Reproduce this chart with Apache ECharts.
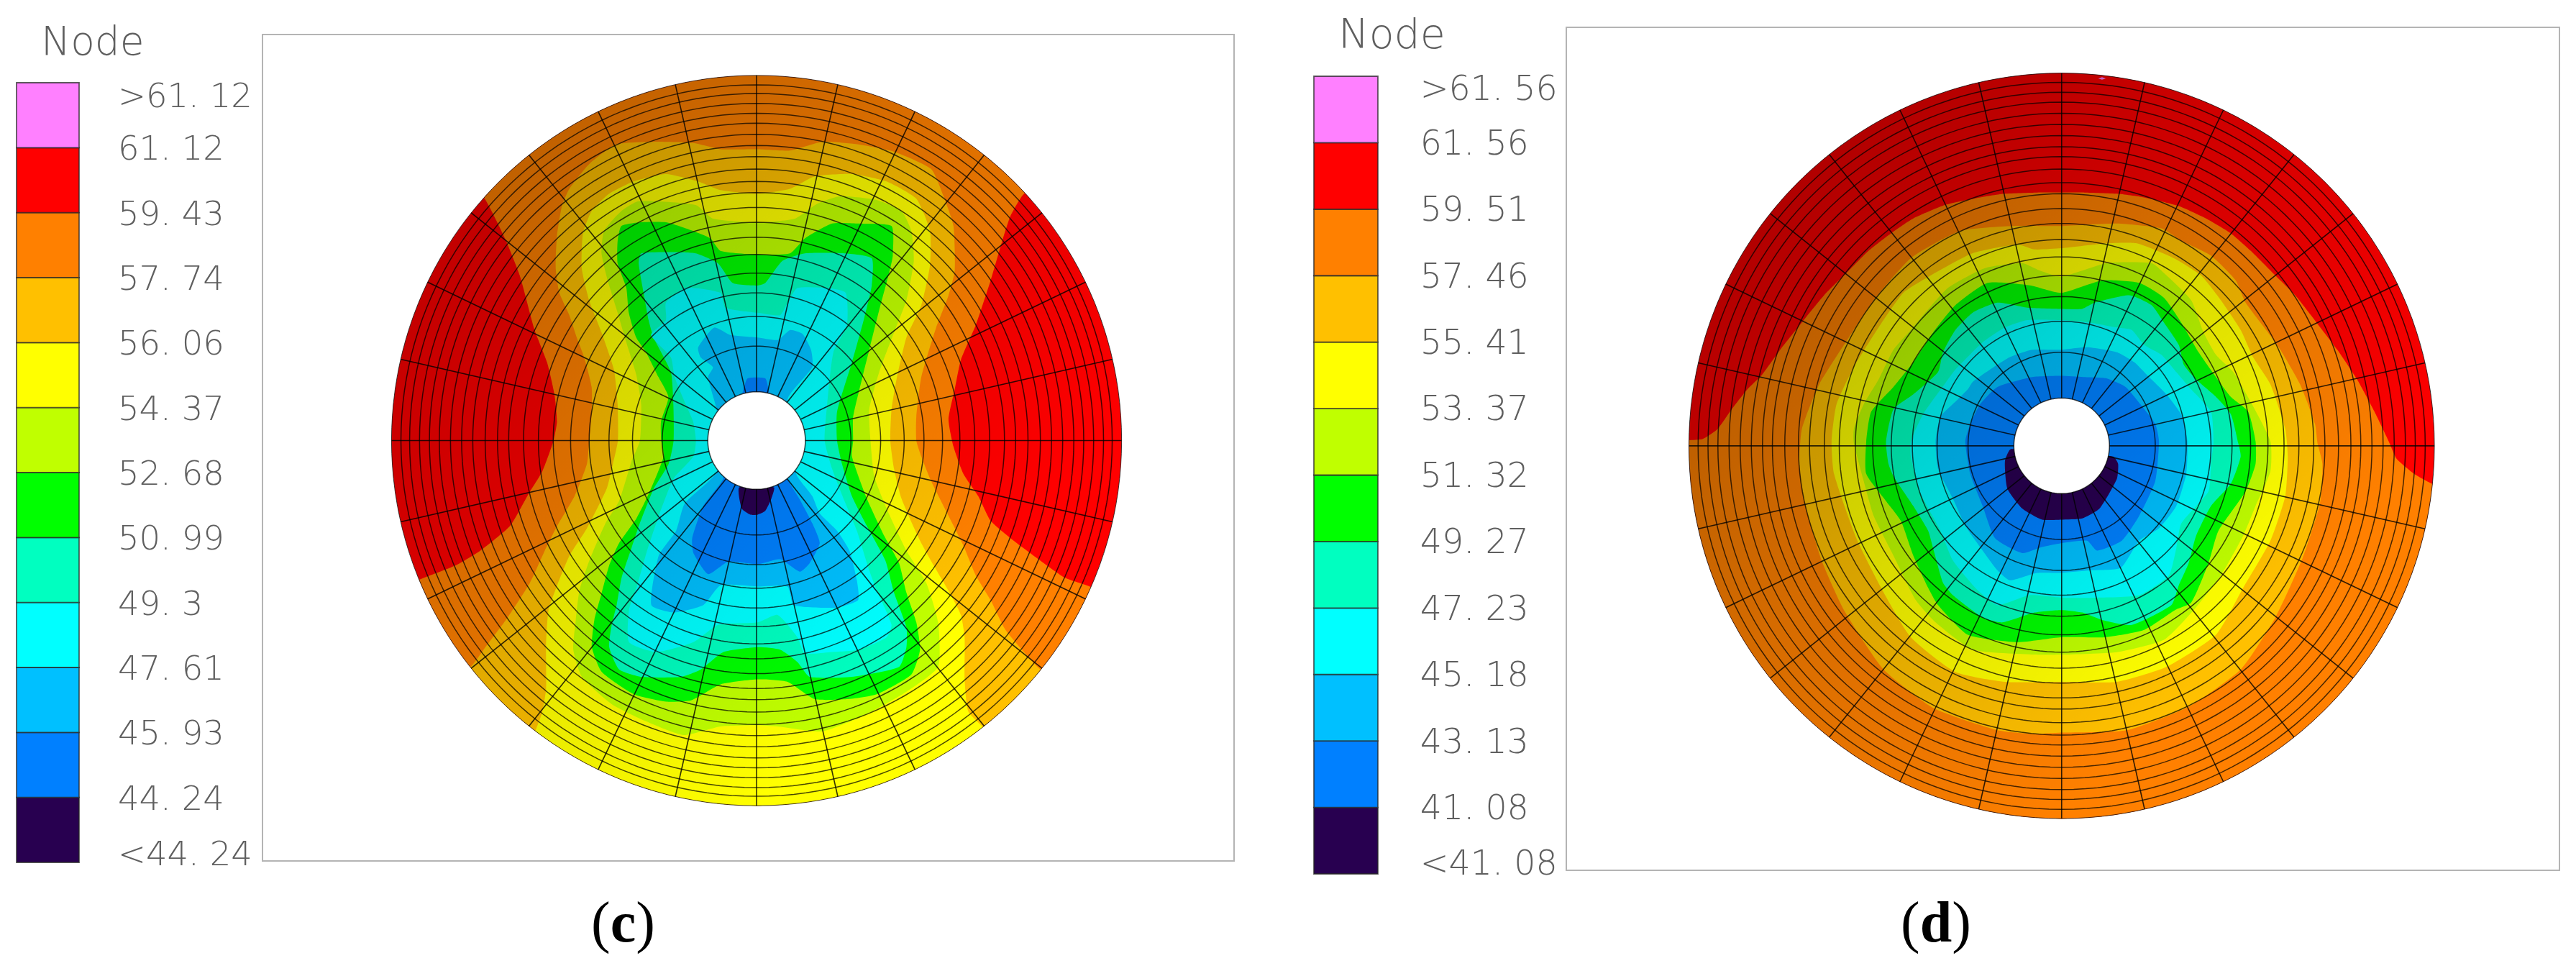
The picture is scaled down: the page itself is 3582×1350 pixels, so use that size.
<!DOCTYPE html>
<html><head><meta charset="utf-8">
<style>html,body{margin:0;padding:0;background:#fff}#chart{width:3582px;height:1350px;filter:blur(0.6px)}</style>
<script src="https://cdn.jsdelivr.net/npm/echarts@6/dist/echarts.min.js"></script>
</head><body><div id="chart"></div>
<script>
// ---- legend data ----
const legendColors = ['#280050','#0080ff','#00c0ff','#00ffff','#00ffc0','#00ff00','#c0ff00','#ffff00','#ffc000','#ff8000','#ff0000','#ff80ff'];
const cLabels = ['<44. 24','44. 24','45. 93','47. 61','49. 3','50. 99','52. 68','54. 37','56. 06','57. 74','59. 43','61. 12','>61. 12'];
const dLabels = ['<41. 08','41. 08','43. 13','45. 18','47. 23','49. 27','51. 32','53. 37','55. 41','57. 46','59. 51','61. 56','>61. 56'];
const cLabelPos = [0.14,1,2,3,4,5,6,7,8,9,10,11,11.81];
const dLabelPos = [0.17,1,2,3,4,5,6,7,8,9,10,11,11.82];

// ---- mesh data (ring radii; spokes per full turn) ----
const cRings = [197,381,501,596,676,751,821,881,941,1001,1046,1096,1146,1191,1236,1281,1321,1361,1401,1436,1474];
const dRings = [193,378,503,603,688,763,833,898,958,1018,1063,1118,1168,1208,1253,1298,1343,1388,1428,1468,1505];
const spokeCount = 28;

// ---- contour outlines, panel (c): region at or below each level ----
const cover = [[-1900,1900],[1900,1900],[1900,-1900],[-1900,-1900]];
const cOrange = [[-1220,1090],[-1101,981],[-1016,816],[-956,666],[-896,446],[-846,316],[-816,186],[-806,76],[-821,-4],[-865,-124],[-920,-214],[-995,-344],[-1115,-444],[-1215,-504],[-1355,-559],[-1500,-620],[-1700,-1700],[1700,-1700],[1500,-660],[1345,-589],[1245,-554],[1145,-484],[1025,-394],[945,-324],[895,-224],[835,-134],[795,-24],[775,86],[800,206],[825,326],[885,466],[945,646],[995,816],[1025,906],[1075,991],[1200,1100],[1700,1700],[-1700,1700]];
const cAmber = [[4,1176],[135,1171],[265,1206],[405,1196],[555,1166],[705,1096],[755,986],[795,866],[800,686],[775,586],[725,456],[665,256],[645,96],[645,0],[665,-64],[705,-164],[765,-284],[835,-424],[885,-544],[945,-644],[1005,-764],[1140,-919],[1300,-1050],[1300,-1700],[-1300,-1700],[-1250,-990],[-1150,-909],[-1095,-834],[-1005,-714],[-915,-574],[-855,-444],[-805,-344],[-735,-224],[-685,-94],[-676,-4],[-666,106],[-666,216],[-696,336],[-726,416],[-756,506],[-796,596],[-811,696],[-806,826],[-786,946],[-756,1016],[-676,1116],[-566,1196],[-416,1206],[-256,1201],[-146,1176]];
const cYellow = [[4,996],[135,1016],[235,1066],[385,1076],[525,1046],[645,976],[700,846],[700,706],[665,546],[605,416],[565,246],[545,126],[540,0],[555,-114],[585,-234],[655,-394],[715,-504],[785,-624],[825,-704],[840,-794],[840,-964],[855,-1094],[915,-1159],[1000,-1300],[1000,-1700],[-1000,-1700],[-950,-1300],[-890,-1164],[-865,-1094],[-850,-1004],[-850,-824],[-840,-684],[-805,-584],[-755,-464],[-685,-354],[-605,-194],[-580,-94],[-560,0],[-561,146],[-576,286],[-626,436],[-676,566],[-706,696],[-701,836],[-666,926],[-596,996],[-496,1046],[-366,1076],[-236,1046],[-146,1011]];
const cYg = [[4,881],[155,896],[245,956],[335,986],[485,971],[585,926],[625,846],[635,726],[605,566],[555,436],[495,276],[455,126],[460,0],[475,-144],[525,-274],[605,-444],[685,-574],[733,-734],[733,-914],[605,-1014],[445,-1104],[265,-1174],[85,-1154],[5,-1149],[-145,-1154],[-295,-1189],[-445,-1134],[-585,-1064],[-705,-954],[-740,-844],[-730,-724],[-715,-604],[-675,-484],[-610,-334],[-555,-244],[-505,-84],[-471,0],[-466,146],[-486,266],[-526,396],[-561,516],[-601,646],[-626,756],[-616,846],[-546,926],[-476,966],[-246,951],[-176,896]];
const cGreen = [[4,751],[135,756],[195,816],[305,876],[405,876],[545,866],[550,746],[535,676],[495,526],[455,366],[430,266],[390,96],[390,0],[385,-64],[445,-234],[515,-384],[575,-494],[605,-614],[645,-734],[660,-844],[625,-944],[485,-1024],[365,-1044],[235,-1044],[125,-974],[5,-964],[-145,-984],[-265,-1049],[-365,-1054],[-495,-1024],[-625,-934],[-665,-834],[-655,-724],[-625,-614],[-595,-504],[-555,-414],[-485,-314],[-435,-214],[-375,-64],[-385,0],[-386,76],[-356,176],[-396,256],[-446,356],[-486,416],[-516,516],[-526,616],[-561,716],[-561,806],[-546,866],[-466,881],[-366,881],[-256,846],[-186,816],[-146,766]];
const cTeal = [[4,626],[35,636],[105,726],[195,756],[355,756],[465,736],[465,626],[435,496],[385,316],[325,116],[325,0],[345,-94],[385,-224],[445,-344],[520,-484],[555,-614],[605,-754],[605,-834],[575,-914],[385,-954],[215,-954],[165,-894],[95,-844],[5,-834],[-135,-854],[-225,-924],[-305,-954],[-465,-954],[-555,-924],[-595,-834],[-585,-744],[-565,-664],[-545,-554],[-505,-434],[-475,-344],[-415,-194],[-355,-94],[-335,0],[-336,146],[-346,276],[-416,416],[-436,486],[-456,596],[-476,716],[-466,756],[-336,761],[-246,756],[-156,716],[-96,636]];
const cCyan = [[4,516],[95,506],[125,556],[165,616],[285,616],[360,596],[365,466],[310,356],[285,146],[275,0],[305,-114],[355,-244],[405,-364],[455,-524],[485,-604],[545,-744],[525,-794],[415,-844],[295,-854],[195,-859],[165,-794],[85,-704],[5,-734],[-155,-744],[-255,-814],[-405,-854],[-515,-814],[-515,-684],[-485,-594],[-445,-454],[-395,-304],[-335,-154],[-255,-64],[-245,0],[-256,76],[-286,146],[-331,256],[-346,336],[-426,426],[-366,486],[-366,556],[-286,616],[-146,596],[-126,536]];
const cLb = [[4,416],[85,406],[135,446],[185,431],[220,366],[225,296],[125,166],[160,-134],[225,-224],[255,-294],[325,-364],[375,-444],[405,-564],[410,-644],[325,-674],[150,-664],[125,-589],[5,-589],[-145,-584],[-215,-664],[-335,-694],[-425,-664],[-395,-464],[-325,-364],[-290,-254],[-160,-124],[-161,121],[-196,256],[-176,296],[-226,336],[-236,376],[-171,456],[-106,426]];
const cBlue = [[-56,196],[-36,251],[35,251],[50,196],[125,-154],[170,-230],[225,-334],[255,-414],[215,-494],[175,-529],[95,-479],[5,-499],[-115,-489],[-195,-539],[-255,-454],[-260,-394],[-215,-264],[-135,-154]];
const cNavy = [[-70,-189],[-60,-274],[-25,-299],[5,-299],[35,-284],[60,-234],[70,-189]];

// ---- contour outlines, panel (d) ----
const dOrange = [[-1700,12],[-1505,12],[-1447,17],[-1387,57],[-1337,127],[-1267,217],[-1207,277],[-1127,387],[-1047,487],[-957,597],[-857,697],[-777,777],[-687,847],[-597,907],[-467,962],[-327,992],[-227,1007],[-97,1012],[0,1012],[95,1012],[225,1007],[335,992],[475,957],[585,907],[685,847],[765,777],[865,677],[945,597],[1035,482],[1115,377],[1195,257],[1265,127],[1325,2],[1355,-64],[1425,-124],[1510,-169],[1700,-200],[1700,-1700],[-1700,-1700]];
const dAmber = [[0,877],[225,887],[405,867],[485,817],[605,757],[705,657],[745,567],[835,447],[885,377],[965,237],[1025,77],[1035,0],[1055,-84],[1045,-244],[975,-464],[865,-704],[725,-914],[515,-1064],[265,-1159],[0,-1169],[-107,-1174],[-257,-1159],[-517,-1069],[-717,-914],[-877,-674],[-967,-474],[-1037,-234],[-1057,-84],[-1047,57],[-977,237],[-857,427],[-757,577],[-607,747],[-407,857],[-197,877]];
const dYellow = [[0,787],[185,807],[305,807],[455,747],[565,677],[645,577],[725,457],[775,347],[845,237],[905,57],[915,-54],[905,-214],[845,-394],[735,-584],[625,-774],[425,-904],[225,-964],[0,-964],[-227,-964],[-427,-924],[-607,-784],[-727,-584],[-827,-384],[-917,-124],[-927,7],[-907,157],[-837,307],[-737,467],[-637,607],[-527,677],[-357,767],[-177,802],[-107,782]];
const dYg = [[0,672],[185,727],[365,727],[415,687],[525,577],[575,447],[625,357],[695,287],[765,167],[845,7],[845,-114],[785,-254],[735,-374],[645,-534],[535,-674],[415,-794],[225,-844],[0,-854],[-107,-854],[-357,-834],[-507,-724],[-587,-634],[-677,-454],[-757,-294],[-797,-154],[-837,0],[-837,57],[-797,157],[-737,257],[-677,377],[-607,457],[-557,517],[-457,627],[-307,707],[-157,727],[-87,697]];
const dGreen = [[0,607],[165,657],[315,647],[415,587],[485,487],[555,367],[625,267],[685,187],[755,127],[785,7],[785,-84],[745,-194],[635,-354],[595,-484],[525,-644],[460,-674],[335,-754],[175,-784],[0,-784],[-177,-804],[-377,-774],[-497,-654],[-537,-584],[-597,-454],[-647,-314],[-707,-234],[-787,-124],[-787,7],[-767,127],[-677,227],[-597,327],[-517,447],[-427,557],[-297,647],[-127,637]];
const dTeal = [[0,542],[85,542],[135,567],[275,597],[365,557],[415,487],[475,397],[495,317],[545,257],[625,187],[685,117],[715,0],[725,-54],[685,-164],[605,-254],[545,-374],[515,-484],[475,-574],[445,-654],[285,-734],[165,-714],[85,-684],[0,-674],[-107,-684],[-237,-724],[-317,-704],[-437,-614],[-477,-564],[-517,-424],[-537,-354],[-597,-254],[-677,-134],[-697,-84],[-707,7],[-677,137],[-597,197],[-497,287],[-477,367],[-427,457],[-357,527],[-257,567],[-137,547]];
const dCyan = [[0,497],[115,487],[225,467],[285,457],[335,397],[405,357],[465,287],[525,217],[605,127],[615,7],[605,-84],[595,-194],[485,-324],[465,-424],[435,-534],[315,-614],[135,-624],[0,-624],[-127,-614],[-257,-654],[-337,-594],[-437,-474],[-487,-354],[-567,-204],[-607,-54],[-607,7],[-557,117],[-457,257],[-427,297],[-317,407],[-227,467],[-137,497]];
const dLb = [[0,377],[105,387],[225,367],[295,327],[345,277],[425,197],[490,107],[510,7],[505,-124],[465,-254],[395,-344],[315,-394],[240,-504],[115,-514],[0,-524],[-97,-524],[-207,-554],[-257,-514],[-317,-434],[-387,-334],[-437,-224],[-497,-104],[-507,7],[-487,107],[-417,177],[-377,217],[-357,247],[-287,297],[-207,347],[-117,377]];
const dBlue = [[0,272],[90,267],[180,262],[260,227],[320,157],[380,77],[395,7],[380,-154],[315,-294],[245,-394],[145,-434],[105,-394],[0,-404],[-80,-420],[-157,-444],[-267,-384],[-317,-254],[-367,-124],[-387,7],[-367,77],[-327,157],[-257,227],[-117,267]];
const dNavy = [[-202,-24],[-227,-74],[-217,-184],[-157,-264],[-77,-309],[0,-309],[85,-304],[155,-264],[225,-144],[230,-84],[210,-54]];
const dPink = [[150,1472],[165,1468],[180,1472],[165,1478]];

const cLayers = [cover,cOrange,cAmber,cYellow,cYg,cGreen,cTeal,cCyan,cLb,cBlue,cNavy];
const dLayers = [cover,dOrange,dAmber,dYellow,dYg,dGreen,dTeal,dCyan,dLb,dBlue,dNavy];
const layerColors = ['#ff0000','#ff8000','#ffc000','#ffff00','#c0ff00','#00ff00','#00ffc0','#00ffff','#00c0ff','#0080ff','#280050'];

const panelC = {grid:0, layers:cLayers, rings:cRings, cx:0, cy:0, R:1474, shade:0.30, extra:[]};
const panelD = {grid:2, layers:dLayers, rings:dRings, cx:2, cy:-11, R:1505, shade:0.38, extra:[dPink]};

function fillSeries(p){
  const n = p.layers.length;
  const items = [...Array(n+p.extra.length+2).keys()].map(i=>[i]);
  return {type:'custom',xAxisIndex:p.grid,yAxisIndex:p.grid,silent:true,animation:false,clip:false,
    data:items,encode:{x:0,y:0},
    renderItem(params,api){
      const i=api.value(0);
      const c=api.coord([p.cx,p.cy]);
      const rpx=api.size([p.R,0])[0];
      const clipPath={type:'circle',shape:{cx:c[0],cy:c[1],r:rpx}};
      if(i<n){
        return {type:'polygon',shape:{points:p.layers[i].map(q=>api.coord(q)),smooth:i===0?0:0.18},
          style:{fill:layerColors[i]},clipPath};
      }
      if(i<n+p.extra.length){
        return {type:'polygon',shape:{points:p.extra[i-n].map(q=>api.coord(q))},style:{fill:'#ff80ff'}};
      }
      if(i===n+p.extra.length){
        const g=new echarts.graphic.LinearGradient(c[0]-rpx,c[1]-rpx,c[0]+rpx,c[1]+rpx,
          [{offset:0,color:'rgba(0,0,0,'+p.shade+')'},{offset:0.75,color:'rgba(0,0,0,0)'},{offset:1,color:'rgba(0,0,0,0)'}],true);
        return {type:'circle',shape:{cx:c[0],cy:c[1],r:rpx},style:{fill:g}};
      }
      return {type:'circle',shape:{cx:c[0],cy:c[1],r:api.size([p.rings[0],0])[0]},style:{fill:'#fff'}};
    }};
}
function meshSeries(p){
  const nr=p.rings.length;
  const items=[...Array(nr+spokeCount).keys()].map(i=>[i]);
  return {type:'custom',xAxisIndex:p.grid,yAxisIndex:p.grid,silent:true,animation:false,clip:false,
    data:items,encode:{x:0,y:0},
    renderItem(params,api){
      const i=api.value(0);
      const at=(r,t)=>api.coord([p.cx+r*Math.sin(t),p.cy+r*Math.cos(t)]);
      if(i<nr){
        const pts=[];
        for(let k=0;k<=180;k++) pts.push(at(p.rings[i],k/180*2*Math.PI));
        return {type:'polyline',shape:{points:pts},style:{fill:'none',stroke:'rgba(0,0,0,0.72)',lineWidth:(i===nr-1)?1:1.5}};
      }
      const t=(i-nr)/spokeCount*2*Math.PI;
      return {type:'polyline',shape:{points:[at(p.rings[0],t),at(p.R,t)]},style:{fill:'none',stroke:'rgba(0,0,0,0.8)',lineWidth:1.6}};
    }};
}
function legendSeries(grid,labels,pos,fontSize,xPos,yShift){
  const items=legendColors.map((_,i)=>[i]);
  return [{type:'custom',xAxisIndex:grid,yAxisIndex:grid,silent:true,animation:false,clip:false,data:items,encode:{x:0,y:0},
    renderItem(params,api){
      const i=api.value(0);
      const a=api.coord([0,i+1]),b=api.coord([1,i]);
      return {type:'rect',shape:{x:a[0],y:a[1],width:b[0]-a[0],height:b[1]-a[1]},
        style:{fill:legendColors[i],stroke:'rgba(40,40,40,0.75)',lineWidth:1.8}};
    }},
  {type:'custom',xAxisIndex:grid,yAxisIndex:grid,silent:true,animation:false,clip:false,data:labels.map((_,i)=>[i]),encode:{x:0,y:0},
    renderItem(params,api){
      const i=api.value(0);
      const a=api.coord([xPos,pos[i]]);
      return {type:'text',style:{text:labels[i],x:a[0],y:a[1]+yShift,fill:'#5f5f5f',align:'left',verticalAlign:'middle',
        font:'200 '+fontSize+'px "DejaVu Sans"'}};
    }}];
}
const hidden=(o)=>Object.assign({show:false,type:'value'},o);
const frame={show:true,borderColor:'#b4b4b4',borderWidth:2,backgroundColor:'#fff'};
const captionRich={a:{fontFamily:'Liberation Serif',fontSize:80,fontWeight:'normal',color:'#000'},b:{fontFamily:'Liberation Serif',fontSize:80,fontWeight:'bold',color:'#000'}};
const nodeStyle=(s)=>({fontFamily:'DejaVu Sans',fontWeight:200,fontSize:s,color:'#5f5f5f'});

const option={
  backgroundColor:'#fff',
  title:[
    {text:'Node',left:57,top:34,padding:0,textStyle:nodeStyle(55)},
    {text:'Node',left:1861,top:24,padding:0,textStyle:nodeStyle(57)},
    {text:'{a|(}{b|c}{a|)}',left:822,top:1248,padding:0,textStyle:{fontWeight:'normal',rich:captionRich}},
    {text:'{a|(}{b|d}{a|)}',left:2643,top:1248,padding:0,textStyle:{fontWeight:'normal',rich:captionRich}}
  ],
  grid:[
    Object.assign({left:365,top:48,width:1351,height:1149},frame),
    {left:23,top:115,width:87,height:1084,show:false},
    Object.assign({left:2178,top:38,width:1381,height:1172},frame),
    {left:1827,top:106,width:89,height:1109,show:false}
  ],
  xAxis:[hidden({gridIndex:0,min:-1995,max:1928}),hidden({gridIndex:1,min:0,max:1}),hidden({gridIndex:2,min:-1998,max:2012}),hidden({gridIndex:3,min:0,max:1})],
  yAxis:[hidden({gridIndex:0,min:-1697,max:1639}),hidden({gridIndex:1,min:0,max:12}),hidden({gridIndex:2,min:-1725,max:1679}),hidden({gridIndex:3,min:0,max:12})],
  series:[fillSeries(panelC),meshSeries(panelC),...legendSeries(1,cLabels,cLabelPos,46.5,1.62,5),
          fillSeries(panelD),meshSeries(panelD),...legendSeries(3,dLabels,dLabelPos,47.5,1.66,4)]
};
const chart=echarts.init(document.getElementById('chart'),null,{renderer:'canvas'});
chart.setOption(option);
</script></body></html>
